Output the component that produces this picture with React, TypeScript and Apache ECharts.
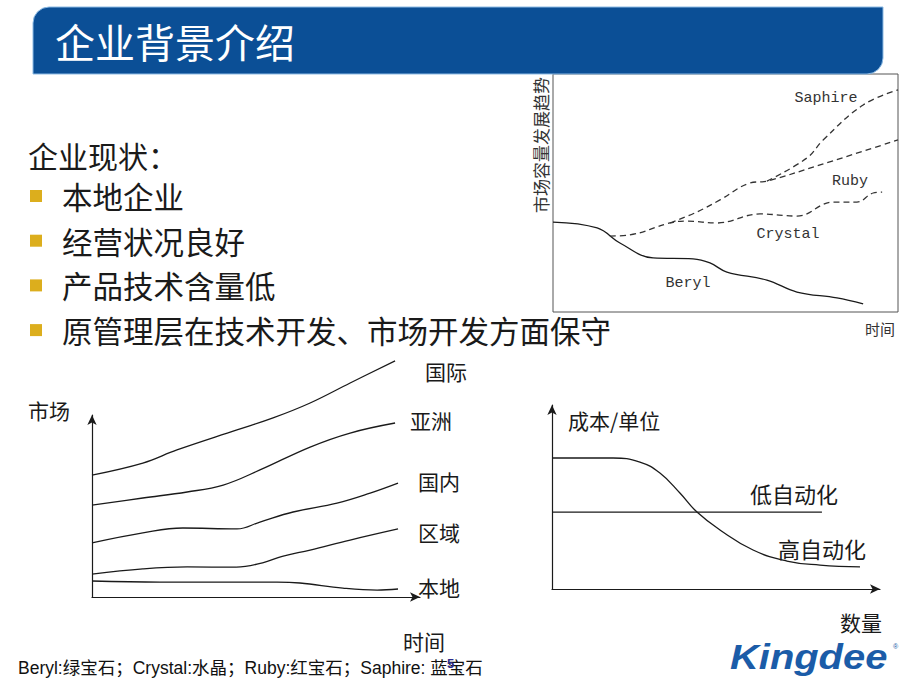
import React, { useEffect, useRef } from 'react';
import * as echarts from 'echarts';

// Top-right chart: 市场容量发展趋势 (time 0-100, volume 0-100)
const beryl = [[0, 37.8], [12.8, 35.3], [19.4, 29], [29, 22.7], [40.6, 22.3], [45.5, 20.6], [50.4, 16.8], [62, 13.4], [70.7, 8.4], [82.3, 5.9], [89.9, 3.4]];
const crystal = [[16.5, 31.9], [22.3, 32.4], [33.9, 37.4], [38.8, 38.2], [47.5, 37.4], [60, 41.2], [70.7, 40.3], [81.2, 46.2], [88.1, 46.2], [92.8, 50], [95.4, 50.4]];
const ruby = [[33.9, 37.4], [41.7, 42], [48.4, 47.1], [57.1, 54.2], [62, 55], [77.4, 61.8], [100, 72.3]];
const saphire = [[62, 55], [73.6, 64.7], [78.3, 72.3], [89.9, 87], [100, 93.3]];
const topLabels = ['Saphire', 'Ruby', 'Crystal', 'Beryl'];

// Bottom-left chart: 市场 vs 时间
const guoji = [[0, 67], [15.5, 73.6], [25.9, 80.8], [44.2, 91.8], [55.2, 98.4], [66.5, 106.6], [78.7, 117.6], [92.4, 129.7]];
const yazhou = [[0, 50.5], [15.5, 54.4], [29, 57.7], [40, 61.5], [51.2, 69.8], [66.5, 82.4], [78.7, 90.1], [92.4, 95.6]];
const guonei = [[0, 29.7], [15.5, 35.2], [27.7, 37.9], [44.2, 37.4], [51.2, 41.2], [61.3, 46.7], [74.7, 51.6], [84.8, 57.1], [93.3, 62.6]];
const quyu = [[0, 12.6], [15.5, 15.4], [29, 16.5], [44, 16.4], [52, 18.8], [58, 22.3], [66.5, 25.8], [78.7, 31.3], [93.3, 37.4]];
const bendi = [[0, 8.8], [20.7, 8.2], [56.4, 8.2], [63.4, 7.7], [76.5, 4.9], [86.9, 3.8], [93.3, 4.4]];
const marketLabels = ['国际', '亚洲', '国内', '区域', '本地'];

// Bottom-right chart: 成本/单位 vs 数量
const lowAuto = [[0, 41.8], [82.3, 41.8]];
const highAuto = [[0, 71.2], [18.6, 71.2], [26.8, 69], [32.9, 63], [39, 52.2], [44.2, 41.8], [51.2, 32.1], [61.3, 21.2], [71.6, 15.2], [81.7, 13], [93.9, 12]];

const bullets = ['本地企业', '经营状况良好', '产品技术含量低', '原管理层在技术开发、市场开发方面保守'];

const CJK = "'Noto Sans CJK SC', 'Noto Sans', sans-serif";
const MONO = "'Liberation Mono', 'DejaVu Sans Mono', monospace";
const LINE = '#1a1a1a';

function lineSeries(data: number[][], idx: number, dashed = false, smooth = 0.4) {
  return {
    type: 'line',
    xAxisIndex: idx,
    yAxisIndex: idx,
    data,
    showSymbol: false,
    smooth,
    clip: false,
    silent: true,
    lineStyle: { color: dashed ? '#333' : LINE, width: 1.3, type: dashed ? [6, 4] : 'solid' },
  };
}

function txt(text: string, x: number, y: number, size: number, extra: any = {}, elExtra: any = {}) {
  return {
    type: 'text',
    x,
    y,
    z: 10,
    ...elExtra,
    style: {
      text,
      fontSize: size,
      fontFamily: CJK,
      fill: '#1a1a1a',
      align: 'left',
      verticalAlign: 'middle',
      ...extra,
    },
  };
}

export default function App() {
  const ref = useRef<HTMLDivElement>(null);
  useEffect(() => {
    if (!ref.current) return;
    const chart = echarts.init(ref.current, undefined, { renderer: 'svg' });
    const arrowAxis = {
      show: true,
      symbol: ['none', 'arrow'],
      symbolSize: [7, 10],
      lineStyle: { color: LINE, width: 1.2 },
    };
    const axes = [0, 1, 2].map((i) => ({
      type: 'value',
      gridIndex: i,
      min: 0,
      max: 100,
      axisLine: i === 0 ? { show: false } : arrowAxis,
      axisTick: { show: false },
      axisLabel: { show: false },
      splitLine: { show: false },
    }));

    const graphic: any[] = [
      {
        type: 'rect',
        z: 1,
        shape: { x: 33, y: 7, width: 850, height: 67, r: [16, 0, 16, 0] },
        style: { fill: '#0b4f96', stroke: '#8dbbe4', lineWidth: 1 },
      },
      txt('企业背景介绍', 55, 41, 40, { fill: '#ffffff' }),
      txt('企业现状：', 28, 155, 30),
      ...bullets.flatMap((b, i) => {
        const y = 196 + i * 44.7;
        return [
          { type: 'rect', z: 10, shape: { x: 30, y: y - 6, width: 12, height: 12 }, style: { fill: '#dcae1d' } },
          txt(b, 62, y, 30.5),
        ];
      }),
      // top-right chart texts
      txt('市场容量发展趋势', 540, 145, 17, { align: 'center', fill: '#333' }, { rotation: Math.PI / 2 }),
      txt('时间', 880, 328, 15, { align: 'center', fill: '#333' }),
      txt(topLabels[0], 826, 98, 15, { align: 'center', fontFamily: MONO, fill: '#333' }),
      txt(topLabels[1], 850, 181, 15, { align: 'center', fontFamily: MONO, fill: '#333' }),
      txt(topLabels[2], 788, 234, 15, { align: 'center', fontFamily: MONO, fill: '#333' }),
      txt(topLabels[3], 688, 283, 15, { align: 'center', fontFamily: MONO, fill: '#333' }),
      // bottom-left chart texts
      txt('市场', 28, 410, 21),
      txt('时间', 403, 641, 21),
      txt(marketLabels[0], 425, 371, 21),
      txt(marketLabels[1], 410, 420, 21),
      txt(marketLabels[2], 418, 481, 21),
      txt(marketLabels[3], 418, 532, 21),
      txt(marketLabels[4], 418, 587, 21),
      // bottom-right chart texts
      txt('成本/单位', 568, 420, 21),
      txt('低自动化', 750, 493, 22),
      txt('高自动化', 778, 548, 22),
      txt('数量', 840, 622, 21),
      // footer
      txt('Beryl:绿宝石；Crystal:水晶；Ruby:红宝石；Saphire: 蓝宝石', 18, 668, 17.5, {
        fontFamily: "'Liberation Sans', 'Noto Sans CJK SC', sans-serif",
        fill: '#111',
      }),
      txt('5', 447, 663, 13, { fontWeight: 'bold', fill: '#2b2b8c', fontFamily: "'Liberation Sans', sans-serif" }),
      // logo
      txt('Kingdee', 730, 657, 35, {
        fontFamily: "'Liberation Sans', Arial, sans-serif",
        fontWeight: 'bold',
        fontStyle: 'italic',
        fill: '#1b5ca8',
      }, { scaleX: 1.14 }),
      txt('®', 893, 646, 7, { fill: '#1b5ca8', fontFamily: "'Liberation Sans', sans-serif" }),
    ];

    chart.setOption({
      animation: false,
      backgroundColor: '#ffffff',
      grid: [
        { left: 553, top: 74, width: 345, height: 238, show: true, borderColor: '#555', borderWidth: 1, backgroundColor: 'transparent' },
        { left: 92, top: 415, width: 328, height: 182 },
        { left: 552, top: 405, width: 328, height: 184 },
      ],
      xAxis: axes,
      yAxis: axes.map((a) => ({ ...a })),
      series: [
        lineSeries(beryl, 0),
        lineSeries(crystal, 0, true),
        lineSeries(ruby, 0, true),
        lineSeries(saphire, 0, true),
        lineSeries(guoji, 1),
        lineSeries(yazhou, 1),
        lineSeries(guonei, 1),
        lineSeries(quyu, 1),
        lineSeries(bendi, 1),
        lineSeries(lowAuto, 2, false, 0),
        lineSeries(highAuto, 2, false, 0.45),
      ],
      graphic,
    });
    return () => chart.dispose();
  }, []);
  return <div ref={ref} style={{ position: 'absolute', left: 0, top: 0, width: 920, height: 690 }} />;
}
